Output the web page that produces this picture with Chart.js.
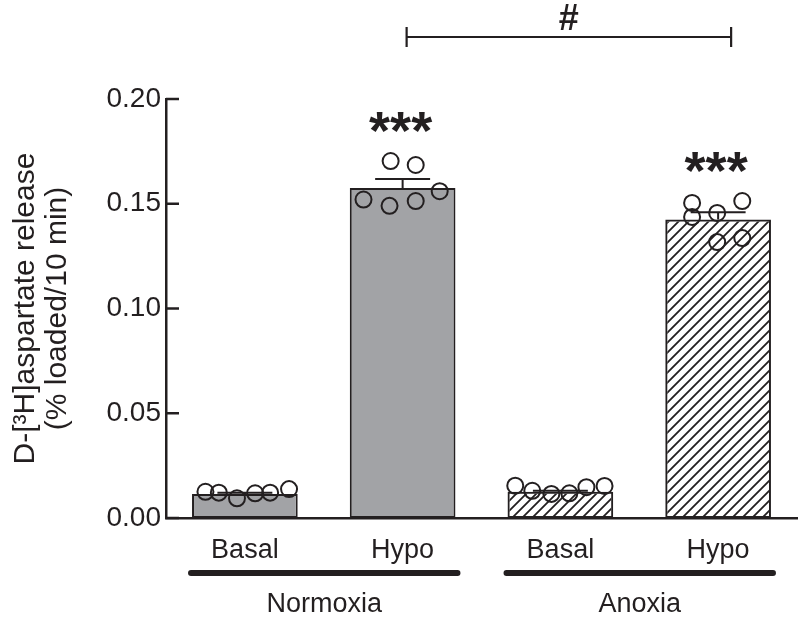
<!DOCTYPE html>
<html lang="en">
<head>
<meta charset="UTF-8" />
<title>D-[3H]aspartate release</title>
<script src="https://cdn.jsdelivr.net/npm/chart.js"></script>
<style>
  html, body { margin: 0; padding: 0; background: #fff; }
  #wrap { width: 800px; height: 617px; }
</style>
</head>
<body>
<div id="wrap"><canvas id="releaseChart" width="800" height="617"></canvas></div>
<script>
  // data
  const categories = ["Basal", "Hypo", "Basal", "Hypo"];
  const groups = ["Normoxia", "Anoxia"];
  const means = [0.0115, 0.1575, 0.0125, 0.1425];
  const sems = [0.0005, 0.0043, 0.0005, 0.0034];
  const normBasalPts = [0.0125, 0.0121, 0.0094, 0.0118, 0.0121, 0.0138];
  const normHypoPts = [0.1520, 0.1490, 0.1513, 0.1560, 0.1704, 0.1685];
  const anoxBasalPts = [0.0154, 0.0130, 0.0115, 0.0118, 0.0147, 0.0153];
  const anoxHypoPts = [0.1504, 0.1513, 0.1437, 0.1456, 0.1317, 0.1336];
  // horizontal spread of the dots, in category units
  const normBasalJit = [-0.25, -0.165, -0.05, 0.065, 0.16, 0.28];
  const normHypoJit = [-0.248, -0.083, 0.083, 0.235, -0.076, 0.083];
  const anoxBasalJit = [-0.286, -0.178, -0.057, 0.057, 0.165, 0.28];
  const anoxHypoJit = [-0.165, 0.153, -0.165, -0.006, -0.006, 0.153];
  const yTicks = [0, 0.05, 0.10, 0.15, 0.20];
  const starLabels = ["", "***", "", "***"];
  const hashLabel = "#";
  const hashFrom = 1, hashTo = 3;

  const ink = "#231f20";
  const gray = "#a2a3a6";
  const font = "'Liberation Sans', Arial, Helvetica, sans-serif";
  Chart.defaults.font.family = font;
  Chart.defaults.color = ink;

  function hatch() {
    const c = document.createElement("canvas");
    c.width = 10; c.height = 10;
    const g = c.getContext("2d");
    g.strokeStyle = ink;
    g.lineWidth = 1.8;
    g.beginPath();
    g.moveTo(0, 10); g.lineTo(10, 0);
    g.moveTo(-5, 5); g.lineTo(5, -5);
    g.moveTo(5, 15); g.lineTo(15, 5);
    g.stroke();
    return g.createPattern(c, "repeat");
  }
  const stripes = hatch();

  const pointSets = [normBasalPts, normHypoPts, anoxBasalPts, anoxHypoPts];
  const jitSets = [normBasalJit, normHypoJit, anoxBasalJit, anoxHypoJit];
  const dots = [];
  pointSets.forEach((vals, i) => {
    vals.forEach((v, k) => dots.push({ x: i + jitSets[i][k], y: v }));
  });

  // error bars (upper half only, drawn right after the bars)
  const errorBars = {
    id: "errorBars",
    afterDatasetDraw(chart, args) {
      if (args.index !== 1) return;
      const ctx = chart.ctx;
      const y = chart.scales.y;
      const meta = chart.getDatasetMeta(1);
      ctx.save();
      ctx.strokeStyle = ink;
      ctx.lineWidth = 2;
      meta.data.forEach((bar, i) => {
        const top = y.getPixelForValue(means[i] + sems[i]);
        const half = bar.width * 0.26;
        ctx.beginPath();
        ctx.moveTo(bar.x, bar.y);
        ctx.lineTo(bar.x, top);
        ctx.moveTo(bar.x - half, top);
        ctx.lineTo(bar.x + half, top);
        ctx.stroke();
      });
      ctx.restore();
    }
  };

  function centeredText(ctx, text, cx, cy) {
    ctx.textBaseline = "alphabetic";
    ctx.textAlign = "center";
    const m = ctx.measureText(text);
    ctx.fillText(text, cx, cy + (m.actualBoundingBoxAscent - m.actualBoundingBoxDescent) / 2);
  }

  const decorations = {
    id: "decorations",
    afterDraw(chart) {
      const ctx = chart.ctx;
      const x = chart.scales.x;
      const y = chart.scales.y;
      const area = chart.chartArea;
      const bars = chart.getDatasetMeta(1).data;
      ctx.save();
      ctx.strokeStyle = ink;
      ctx.fillStyle = ink;

      // inward tick marks on the y axis
      ctx.lineWidth = 2.5;
      yTicks.forEach(t => {
        const py = y.getPixelForValue(t);
        ctx.beginPath();
        ctx.moveTo(area.left, py);
        ctx.lineTo(area.left + 13, py);
        ctx.stroke();
      });

      // stars above bars
      ctx.font = "bold 54px " + font;
      starLabels.forEach((s, i) => {
        if (!s) return;
        const top = Math.max(...pointSets[i]);
        centeredText(ctx, s, x.getPixelForValue(i) - 2, y.getPixelForValue(top) - 39);
      });

      // comparison bracket
      const bx1 = x.getPixelForValue(hashFrom) + 4;
      const bx2 = x.getPixelForValue(hashTo) + 13;
      const by = y.getPixelForValue(0.2296);
      ctx.lineWidth = 2.2;
      ctx.beginPath();
      ctx.moveTo(bx1, by); ctx.lineTo(bx2, by);
      ctx.moveTo(bx1, by - 10); ctx.lineTo(bx1, by + 10);
      ctx.moveTo(bx2, by - 10); ctx.lineTo(bx2, by + 10);
      ctx.stroke();
      ctx.font = "bold 36px " + font;
      centeredText(ctx, hashLabel, (bx1 + bx2) / 2, y.getPixelForValue(0.2390));

      // group underlines and names
      ctx.lineWidth = 6;
      ctx.lineCap = "round";
      ctx.font = "27px " + font;
      groups.forEach((g, gi) => {
        const a = bars[gi * 2], b = bars[gi * 2 + 1];
        const l = a.x - a.width / 2 - 1;
        const r = b.x + b.width / 2 + 2;
        const ly = area.bottom + 55;
        ctx.beginPath();
        ctx.moveTo(l, ly); ctx.lineTo(r, ly);
        ctx.stroke();
        ctx.textAlign = "center";
        ctx.textBaseline = "alphabetic";
        ctx.fillText(g, (l + r) / 2, area.bottom + 94);
      });
      ctx.restore();
    }
  };

  new Chart(document.getElementById("releaseChart"), {
    data: {
      labels: categories,
      datasets: [
        {
          type: "scatter",
          data: dots,
          xAxisID: "xs",
          yAxisID: "y",
          pointRadius: 8,
          pointBorderWidth: 2,
          pointBackgroundColor: "rgba(0,0,0,0)",
          pointBorderColor: ink,
          order: 1
        },
        {
          type: "bar",
          data: means,
          xAxisID: "x",
          yAxisID: "y",
          backgroundColor: [gray, gray, stripes, stripes],
          borderColor: ink,
          borderWidth: 2,
          borderSkipped: false,
          grouped: false,
          categoryPercentage: 1,
          barPercentage: 0.67,
          order: 2
        }
      ]
    },
    options: {
      responsive: false,
      animation: false,
      layout: { autoPadding: false, padding: { top: 99, right: 3, bottom: 0, left: 0 } },
      plugins: { legend: { display: false }, tooltip: { enabled: false } },
      scales: {
        x: {
          type: "category",
          offset: true,
          grid: { display: false, drawTicks: false, tickLength: 0 },
          border: { display: true, color: ink, width: 2.5 },
          ticks: { color: ink, font: { size: 27 }, padding: 16 },
          afterFit(s) { s.height = 99; }
        },
        xs: { type: "linear", min: -0.5, max: 3.5, display: false },
        y: {
          min: 0,
          max: 0.2,
          grid: { display: false, drawTicks: false, tickLength: 0 },
          border: { display: true, color: ink, width: 2.5 },
          afterBuildTicks(s) { s.ticks = yTicks.map(v => ({ value: v })); },
          ticks: {
            color: ink,
            font: { size: 28 },
            padding: 5,
            callback: v => v.toFixed(2)
          },
          title: {
            display: true,
            text: ["D-[³H]aspartate release", "(% loaded/10 min)"],
            color: ink,
            font: { size: 30, lineHeight: 1.07 },
            padding: { top: 10, bottom: 0 }
          },
          afterFit(s) { s.width = 166; }
        }
      }
    },
    plugins: [errorBars, decorations]
  });
</script>
</body>
</html>
